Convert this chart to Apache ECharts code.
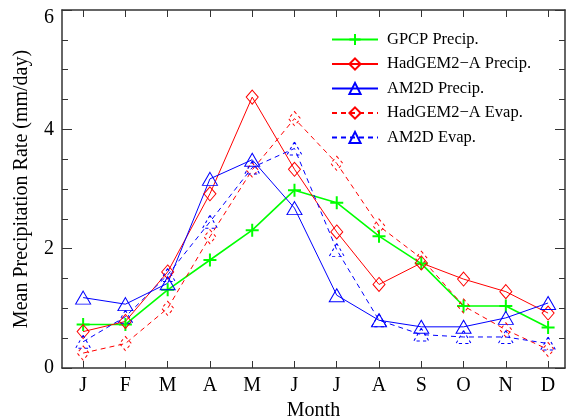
<!DOCTYPE html>
<html>
<head>
<meta charset="utf-8">
<script src="https://cdn.jsdelivr.net/npm/echarts@6/dist/echarts.min.js"></script>
<style>html,body{margin:0;padding:0;background:#fff}#c{width:566px;height:420px}</style>
</head>
<body>
<div id="c"></div>
<script>
const months = ['J','F','M','A','M','J','J','A','S','O','N','D'];
const gpcpPrecip   = [0.73, 0.73, 1.31, 1.81, 2.31, 2.98, 2.77, 2.21, 1.75, 1.04, 1.04, 0.68];
const hadPrecip    = [0.61, 0.78, 1.61, 2.92, 4.54, 3.33, 2.28, 1.40, 1.76, 1.49, 1.28, 0.92];
const am2dPrecip   = [1.18, 1.07, 1.42, 3.17, 3.49, 2.68, 1.22, 0.80, 0.69, 0.69, 0.84, 1.09];
const hadEvap      = [0.25, 0.41, 1.00, 2.20, 3.32, 4.18, 3.43, 2.38, 1.84, 1.04, 0.64, 0.31];
const am2dEvap     = [0.44, 0.86, 1.56, 2.45, 3.36, 3.68, 1.98, 0.80, 0.56, 0.52, 0.52, 0.41];
const yTicks = [0, 2, 4, 6];

const font = 'Liberation Serif';
const monthIdx = months.map((m, i) => i + 1);
const toXY = arr => arr.map((v, i) => [i + 1, v]);
const plusPath = 'path://M5,0L5,10M0,5L10,5';

const chart = echarts.init(document.getElementById('c'), null, {renderer: 'canvas'});
const axisLineStyle = {color: '#333', width: 1.5};

function mk(name, data, color, symbol, size, dashed, lw) {
  return {
    name, type: 'line', data: toXY(data),
    symbol, symbolSize: size, showSymbol: true,
    lineStyle: {color, width: lw, type: dashed ? [5, 4] : 'solid'},
    itemStyle: {color: symbol === plusPath ? color : 'rgba(255,255,255,0)', borderColor: color, borderWidth: symbol === plusPath ? 2 : 1, borderType: dashed ? [3, 3] : 'solid'},
    emphasis: {disabled: true},
    animation: false
  };
}

chart.setOption({
  backgroundColor: '#fff',
  animation: false,
  grid: {left: 62, top: 10, right: 1, bottom: 52, outerBoundsMode: 'none', containLabel: false},
  legend: {
    left: 326, top: 26, orient: 'vertical',
    itemWidth: 46, itemHeight: 14, itemGap: 7.5,
    textStyle: {fontFamily: font, fontSize: 16.5, color: '#000', padding: [0, 0, 0, 4]},
    data: ['GPCP Precip.', 'HadGEM2\u2212A Precip.', 'AM2D Precip.', 'HadGEM2\u2212A Evap.', 'AM2D Evap.']
  },
  xAxis: [{
    type: 'value', min: 0.5, max: 12.4, position: 'bottom',
    name: 'Month', nameLocation: 'middle', nameGap: 30,
    nameTextStyle: {fontFamily: font, fontSize: 20, color: '#000'},
    axisLine: {show: true, onZero: false, lineStyle: axisLineStyle},
    axisTick: {show: true, inside: true, length: 7, customValues: monthIdx, lineStyle: {color: '#333'}},
    axisLabel: {customValues: monthIdx, formatter: v => months[Math.round(v) - 1] || '', fontFamily: font, fontSize: 20, color: '#000', margin: 8},
    splitLine: {show: false}
  }, {
    type: 'value', min: 0.5, max: 12.4, position: 'top',
    axisLine: {show: true, onZero: false, lineStyle: axisLineStyle},
    axisTick: {show: true, inside: true, length: 7, customValues: monthIdx, lineStyle: {color: '#333'}},
    axisLabel: {show: false},
    splitLine: {show: false}
  }],
  yAxis: [{
    type: 'value', min: 0, max: 6, interval: 2, position: 'left',
    name: 'Mean Precipitation Rate (mm/day)', nameLocation: 'middle', nameGap: 30, nameRotate: 90,
    nameTextStyle: {fontFamily: font, fontSize: 20, color: '#000'},
    axisLine: {show: true, onZero: false, lineStyle: axisLineStyle},
    axisTick: {show: true, inside: true, length: 10, lineStyle: {color: '#333'}},
    minorTick: {show: true, splitNumber: 4, length: 6, lineStyle: {color: '#333'}},
    axisLabel: {
      customValues: yTicks,
      formatter: v => v === 6 ? '{top|' + v + '}' : String(v),
      rich: {top: {fontFamily: font, fontSize: 20, color: '#000', padding: [16, 0, 0, 0]}},
      fontFamily: font, fontSize: 20, color: '#000', margin: 8
    },
    splitLine: {show: false}
  }, {
    type: 'value', min: 0, max: 6, interval: 2, position: 'right',
    axisLine: {show: true, onZero: false, lineStyle: axisLineStyle},
    axisTick: {show: true, inside: true, length: 10, lineStyle: {color: '#333'}},
    minorTick: {show: true, splitNumber: 4, length: 6, lineStyle: {color: '#333'}},
    axisLabel: {show: false},
    splitLine: {show: false}
  }],
  series: [
    mk('GPCP Precip.', gpcpPrecip, '#00ff00', plusPath, 13, false, 1.6),
    mk('HadGEM2\u2212A Precip.', hadPrecip, '#ff0000', 'diamond', [12, 14], false, 1),
    mk('AM2D Precip.', am2dPrecip, '#0000ff', 'triangle', [15, 13], false, 1),
    mk('HadGEM2\u2212A Evap.', hadEvap, '#ff0000', 'diamond', [12, 14], true, 1),
    mk('AM2D Evap.', am2dEvap, '#0000ff', 'triangle', [15, 13], true, 1)
  ]
});
</script>
</body>
</html>
